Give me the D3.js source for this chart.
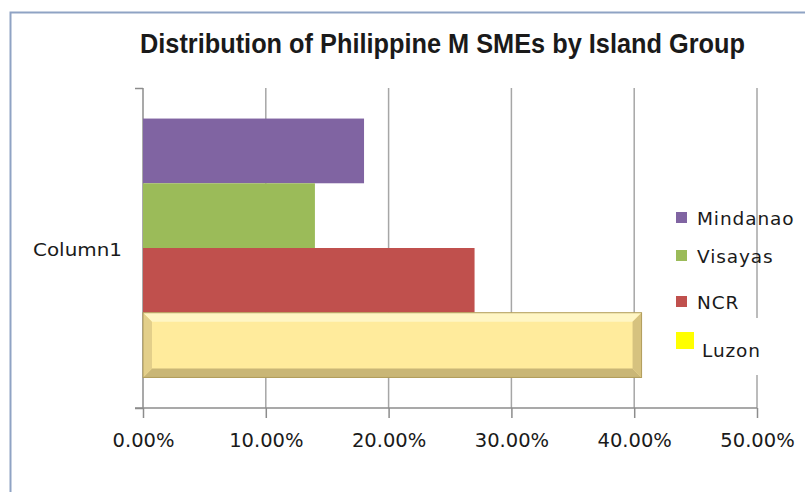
<!DOCTYPE html>
<html>
<head>
<meta charset="utf-8">
<script src="https://cdn.jsdelivr.net/npm/d3@7"></script>
<style>
  body { margin: 0; background: #fff; }
  text { font-family: "DejaVu Sans", sans-serif; fill: #1a1a1a; }
</style>
</head>
<body>
<div id="chart"></div>
<script>
const categories = ["Column1"];
const series = ["Mindanao", "Visayas", "NCR", "Luzon"];
const values = [0.18, 0.14, 0.27, 0.406];
const colors = ["#8064a2", "#9bbb59", "#c0504d", "#ffeb9c"];
const legendColors = ["#8064a2", "#9bbb59", "#c0504d", "#ffff00"];
const ticks = [0, 0.1, 0.2, 0.3, 0.4, 0.5];
const title = "Distribution of Philippine M SMEs by Island Group";

const W = 805, H = 492;
const plot = {left: 143, right: 757, top: 88, bottom: 408};

const svg = d3.select("#chart").append("svg")
  .attr("width", W).attr("height", H);

// chart frame
svg.append("rect")
  .attr("x", 10.5).attr("y", 12.5)
  .attr("width", W).attr("height", H)
  .attr("fill", "#fff").attr("stroke", "#8fa3c4").attr("stroke-width", 2);

svg.append("text")
  .attr("x", 140).attr("y", 53)
  .attr("textLength", 605).attr("lengthAdjust", "spacingAndGlyphs")
  .style("font-family", "'Liberation Sans Narrow', 'Liberation Sans', Arial, sans-serif")
  .style("font-weight", "bold").style("font-size", "27px")
  .text(title);

const x = d3.scaleLinear().domain([0, 0.5]).range([plot.left, plot.right]);
const y0 = d3.scaleBand().domain(categories).range([plot.top, plot.bottom])
  .paddingOuter(0.118);
const y1 = d3.scaleBand().domain(series).range([0, y0.bandwidth()]);

// gridlines
svg.append("g").selectAll("line")
  .data(ticks.slice(1))
  .join("line")
  .attr("x1", d => x(d)).attr("x2", d => x(d))
  .attr("y1", plot.top).attr("y2", plot.bottom)
  .attr("stroke", "#a6a6a6").attr("stroke-width", 1.5);

// y axis
const yAxis = svg.append("g").attr("transform", `translate(${plot.left},0)`)
  .call(d3.axisLeft(d3.scaleLinear().domain([0, 1]).range([plot.bottom, plot.top]))
    .tickValues([0, 1]).tickSize(8).tickFormat(""));
yAxis.selectAll("path, line").attr("stroke", "#8c8c8c").attr("stroke-width", 1.5);
yAxis.select(".domain").attr("d", `M0,${plot.top}V${plot.bottom}`);

svg.append("text")
  .attr("x", 33).attr("y", 250)
  .attr("textLength", 89).attr("lengthAdjust", "spacingAndGlyphs")
  .attr("dominant-baseline", "central")
  .style("font-size", "17px")
  .text(categories[0]);

// bars
const bars = svg.append("g");
series.forEach((s, i) => {
  const by = y0("Column1") + y1(s);
  const bw = x(values[i]) - x(0);
  const bh = y1.bandwidth();
  if (s !== "Luzon") {
    bars.append("rect")
      .attr("x", x(0)).attr("y", by)
      .attr("width", bw).attr("height", bh)
      .attr("fill", colors[i]);
  } else {
    // bevelled bar
    const g = bars.append("g").attr("transform", `translate(${x(0)},${by})`);
    const b = 9;
    g.append("rect").attr("width", bw).attr("height", bh).attr("fill", colors[i]);
    g.append("polygon").attr("points", `0,0 ${bw},0 ${bw - b},${b} ${b},${b}`).attr("fill", "#fff6c4");
    g.append("polygon").attr("points", `0,${bh} ${bw},${bh} ${bw - b},${bh - b} ${b},${bh - b}`).attr("fill", "#c9b676");
    g.append("polygon").attr("points", `0,0 ${b},${b} ${b},${bh - b} 0,${bh}`).attr("fill", "#e3cf8a");
    g.append("polygon").attr("points", `${bw},0 ${bw - b},${b} ${bw - b},${bh - b} ${bw},${bh}`).attr("fill", "#d6c27f");
    g.append("rect").attr("x", 0).attr("y", 0).attr("width", bw).attr("height", bh)
      .attr("fill", "none").attr("stroke", "#b09c5a").attr("stroke-width", 1);
  }
});

// x axis
const xAxis = svg.append("g").attr("transform", `translate(0,${plot.bottom})`)
  .call(d3.axisBottom(x).tickValues(ticks).tickSize(10).tickPadding(15)
    .tickFormat(d3.format(".2%")));
xAxis.selectAll("path, line").attr("stroke", "#8c8c8c").attr("stroke-width", 1.5);
xAxis.select(".domain").attr("d", `M${plot.left - 8},0H${plot.right}`);
xAxis.selectAll("text")
  .style("font-family", "'DejaVu Sans', sans-serif")
  .style("font-size", "19.5px").attr("fill", "#1a1a1a");

// legend
const legendY = [218, 256, 302, 349];
const lg = svg.append("g");
// white box behind the last entry hides the gridline, as in the original
lg.append("rect").attr("x", 662).attr("y", 318).attr("width", 143).attr("height", 57)
  .attr("fill", "#fff");
series.forEach((s, i) => {
  const big = s === "Luzon";
  lg.append("rect")
    .attr("x", 676).attr("y", legendY[i] - (big ? 17 : 6))
    .attr("width", big ? 18 : 11).attr("height", big ? 17 : 11)
    .attr("fill", legendColors[i]);
  lg.append("text")
    .attr("x", big ? 702 : 697).attr("y", legendY[i] + (big ? 1 : 0))
    .attr("dominant-baseline", "central")
    .style("font-size", "18.5px").style("letter-spacing", "0.9px")
    .text(s);
});
</script>
</body>
</html>
